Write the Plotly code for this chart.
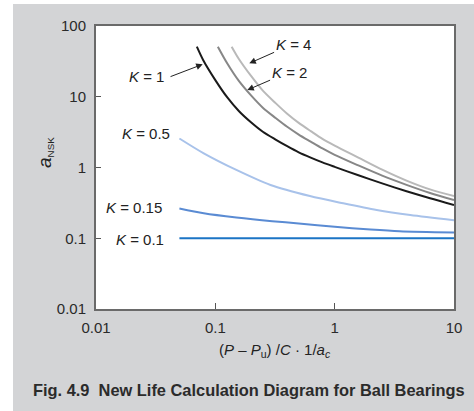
import plotly.graph_objects as go

# ---- data ----
k01_x = [0.05, 10]
k01_y = [0.1, 0.1]

k015_x = [0.05, 0.08, 0.15, 0.3, 0.5, 1, 2, 3.5, 10]
k015_y = [0.263, 0.225, 0.196, 0.174, 0.162, 0.145, 0.133, 0.126, 0.121]

k05_x = [0.05, 0.08, 0.15, 0.29, 0.62, 1.18, 2.25, 4.3, 10]
k05_y = [2.57, 1.585, 0.923, 0.566, 0.395, 0.312, 0.251, 0.213, 0.18]

k1_x = [0.07, 0.079, 0.1, 0.126, 0.158, 0.2, 0.25, 0.32, 0.4, 0.5, 0.63, 0.79, 1, 1.58, 2.5, 4, 6.3, 10]
k1_y = [51, 33.1, 17.2, 9.77, 6.24, 4.32, 3.2, 2.48, 2.0, 1.64, 1.38, 1.18, 1.02, 0.776, 0.596, 0.462, 0.367, 0.295]

k2_x = [0.105, 0.126, 0.158, 0.2, 0.25, 0.32, 0.4, 0.5, 0.63, 0.79, 1, 1.58, 2.5, 4, 6.3, 10]
k2_y = [51, 29.5, 16.6, 10.35, 7.0, 5.01, 3.76, 2.92, 2.32, 1.86, 1.51, 1.07, 0.767, 0.569, 0.437, 0.347]

k4_x = [0.137, 0.158, 0.2, 0.25, 0.32, 0.4, 0.5, 0.63, 0.79, 1, 1.58, 2.5, 4, 6.3, 10]
k4_y = [51, 33.9, 19.5, 12.2, 8.13, 5.75, 4.27, 3.27, 2.54, 2.04, 1.38, 0.933, 0.653, 0.49, 0.394]

x_ticks = [0.01, 0.1, 1, 10]
x_tick_text = ["0.01", "0.1", "1", "10"]
y_ticks = [0.01, 0.1, 1, 10, 100]
y_tick_text = ["0.01", "0.1", "1", "10", "100"]

series = [
    ("K=0.1", k01_x, k01_y, "#1b74c5"),
    ("K=0.15", k015_x, k015_y, "#5a8bd3"),
    ("K=0.5", k05_x, k05_y, "#a8c2ea"),
    ("K=4", k4_x, k4_y, "#b9b9b9"),
    ("K=2", k2_x, k2_y, "#878787"),
    ("K=1", k1_x, k1_y, "#1a1a1a"),
]

# ---- layout geometry ----
W, H = 474, 411
L, R, T, B = 96, 20, 26, 102
PW, PH = W - L - R, H - T - B


def px(xp):
    return (xp - L) / PW


def py(yp):
    return (H - B - yp) / PH


FONT = "Liberation Sans, Arial, Helvetica, sans-serif"
TXT = "#222222"
BG = "#d3d4d6"

fig = go.Figure()
for name, xs, ys, col in series:
    fig.add_trace(go.Scatter(x=xs, y=ys, mode="lines", name=name,
                             line=dict(color=col, width=2, shape="spline", smoothing=0.8),
                             showlegend=False, hoverinfo="skip"))

axis_common = dict(
    type="log", showgrid=False, zeroline=False,
    showline=True, linecolor="#6a6a6a", linewidth=2, mirror=True,
    ticks="inside", tickcolor="#555555", tickwidth=1,
    tickfont=dict(family=FONT, size=15, color="#2a2a2a"),
)
fig.update_xaxes(range=[-2, 1], tickvals=x_ticks, ticktext=x_tick_text, ticklen=6,
                 ticklabelstandoff=4, **axis_common)
fig.update_yaxes(range=[-2, 2], tickvals=y_ticks, ticktext=y_tick_text, ticklen=5,
                 ticklabelstandoff=5, **axis_common)

ann = []
lab_font = dict(family=FONT, size=15, color=TXT)
labels = [
    ("<i>K</i> = 0.5", 172, 133.5),
    ("<i>K</i> = 0.15", 164, 207),
    ("<i>K</i> = 0.1", 166, 239.5),
]
for t, xr, yc in labels:
    ann.append(dict(text=t, x=px(xr), y=py(yc), xref="paper", yref="paper",
                    xanchor="right", yanchor="middle", showarrow=False, font=lab_font))

# labels carrying arrows: (text, text centre, arrow head)
arrow_labels = [
    ("<i>K</i> = 4", (293, 44), (249.3, 63.3), 1),
    ("<i>K</i> = 2", (289, 72), (247.3, 90), 1),
    ("<i>K</i> = 1<br>\u00a0", (146, 86), (202.7, 64.3), 7),
]
for t, (cx, cy), (hx, hy), ss in arrow_labels:
    ann.append(dict(text=t, x=px(hx), y=py(hy), xref="paper", yref="paper",
                    ax=cx - hx, ay=cy - hy, showarrow=True, arrowhead=2,
                    arrowsize=1.3, arrowwidth=1, arrowcolor="#222222",
                    startstandoff=ss, font=lab_font, borderpad=0))

# axis titles
ann.append(dict(text="(<i>P</i> – <i>P</i><sub>u</sub>) /<i>C</i> · 1/<i>a</i><sub><i>c</i></sub>",
                x=px(275), y=py(350), xref="paper", yref="paper", xanchor="center",
                yanchor="middle", showarrow=False, font=dict(family=FONT, size=15, color=TXT)))
ann.append(dict(text='<span style="font-size:19px"><i>a</i></span><sub>NSK</sub>',
                x=px(45), y=py(153), xref="paper", yref="paper", xanchor="center",
                yanchor="middle", textangle=-90, showarrow=False,
                font=dict(family=FONT, size=14, color=TXT)))
# caption
ann.append(dict(text="<b>Fig. 4.9\u00a0 New Life Calculation Diagram for Ball Bearings</b>",
                x=px(248.5), y=py(390), xref="paper", yref="paper", xanchor="center",
                yanchor="middle", showarrow=False,
                font=dict(family=FONT, size=16.4, color="#2b2b2b")))

shapes = [
    dict(type="rect", xref="paper", yref="paper", x0=px(-5), x1=px(13), y0=py(420), y1=py(-5),
         fillcolor="white", line=dict(width=0), layer="above"),
    dict(type="rect", xref="paper", yref="paper", x0=px(-5), x1=px(480), y0=py(4), y1=py(-5),
         fillcolor="white", line=dict(width=0), layer="above"),
]

fig.update_layout(width=W, height=H, margin=dict(l=L, r=R, t=T, b=B),
                  paper_bgcolor=BG, plot_bgcolor="white",
                  annotations=ann, shapes=shapes, showlegend=False)

fig.write_html("out.html", config={"displayModeBar": False},
               post_script="document.body.style.margin='0';document.body.style.overflow='hidden';")
